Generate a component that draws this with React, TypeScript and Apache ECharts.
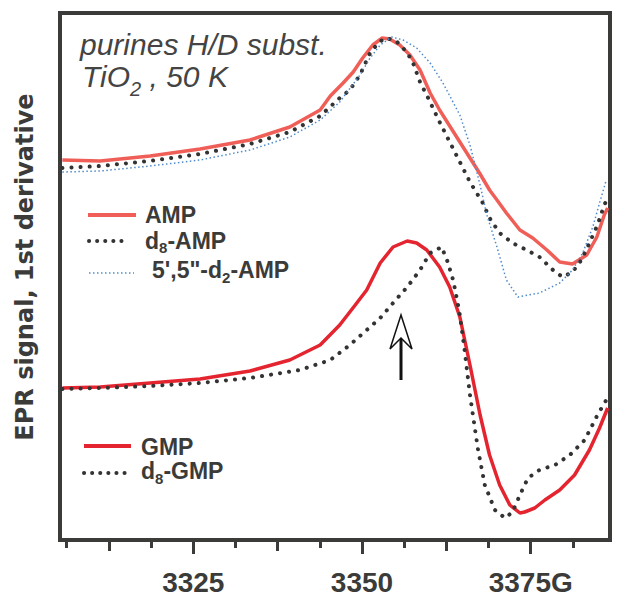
import React, { useEffect, useRef } from "react";
import * as echarts from "echarts";

// Field (G) vs EPR signal (arbitrary units)
const AMP: [number, number][] = [
  [3305.6, 380], [3311.2, 379], [3318.6, 384], [3326.0, 391], [3333.4, 400], [3339.3, 413],
  [3343.8, 430], [3345.3, 444], [3347.2, 457], [3348.7, 468], [3350.1, 482], [3351.6, 495],
  [3353.0, 502], [3354.1, 501], [3355.6, 495], [3357.1, 485], [3358.6, 470], [3360.1, 447],
  [3361.5, 430], [3363.0, 414], [3364.5, 398], [3366.0, 382], [3367.5, 366], [3368.9, 350],
  [3370.0, 340], [3371.4, 327], [3373.4, 310], [3375.3, 302], [3377.4, 290], [3379.3, 278],
  [3381.2, 276], [3383.3, 285], [3384.8, 303], [3385.9, 325], [3386.4, 332],
];
const D8_AMP: [number, number][] = [
  [3305.6, 372], [3311.2, 374], [3318.6, 379], [3326.0, 386], [3333.4, 396], [3339.3, 408],
  [3343.8, 424], [3346.7, 442], [3348.2, 450], [3349.7, 465], [3351.2, 487], [3352.4, 497],
  [3353.4, 502], [3354.9, 500], [3356.1, 492], [3357.4, 480], [3358.6, 458], [3359.8, 442],
  [3361.5, 418], [3363.0, 398], [3364.5, 378], [3366.0, 358], [3367.9, 337], [3368.9, 322],
  [3370.4, 307], [3372.3, 297], [3374.4, 290], [3376.3, 283], [3378.3, 270], [3379.7, 263],
  [3381.2, 268], [3382.5, 280], [3383.7, 297], [3384.9, 315], [3385.9, 335], [3386.4, 342],
];
const D2_AMP: [number, number][] = [
  [3305.6, 368], [3311.2, 369], [3318.6, 374], [3326.0, 380], [3333.4, 390], [3339.3, 403],
  [3343.8, 420], [3346.7, 438], [3349.7, 465], [3351.2, 482], [3352.7, 495], [3354.4, 503],
  [3356.1, 500], [3358.1, 492], [3360.1, 477], [3362.0, 457], [3362.7, 448], [3364.5, 425],
  [3366.0, 395], [3367.5, 355], [3368.5, 325], [3370.0, 293], [3371.4, 260], [3373.1, 243],
  [3376.3, 247], [3379.3, 257], [3381.2, 270], [3382.7, 287], [3384.2, 313], [3385.2, 337],
  [3386.2, 360],
];
const GMP: [number, number][] = [
  [3305.6, 152], [3311.2, 153], [3318.6, 157], [3326.0, 161], [3333.4, 169], [3339.3, 180],
  [3343.8, 195], [3346.7, 215], [3349.0, 235], [3350.7, 250], [3352.7, 277], [3354.6, 293],
  [3356.7, 299], [3358.1, 297], [3359.6, 290], [3361.5, 273], [3363.0, 253], [3364.5, 223],
  [3366.0, 175], [3367.5, 125], [3368.9, 85], [3370.4, 55], [3371.9, 35], [3373.4, 27],
  [3374.1, 28], [3375.6, 32], [3377.1, 40], [3379.3, 50], [3381.5, 65], [3383.7, 90],
  [3385.2, 112], [3386.4, 132],
];
const D8_GMP: [number, number][] = [
  [3305.6, 151], [3311.2, 152], [3318.6, 154], [3326.0, 157], [3333.4, 162], [3340.8, 170],
  [3345.3, 180], [3348.2, 195], [3350.7, 210], [3352.7, 222], [3354.6, 237], [3356.7, 253],
  [3358.6, 270], [3360.1, 287], [3361.8, 293], [3362.7, 278], [3363.5, 260], [3364.1, 240],
  [3364.5, 225], [3365.2, 190], [3366.0, 145], [3367.2, 90], [3368.2, 55], [3369.7, 30],
  [3371.2, 22], [3372.3, 28], [3373.4, 45], [3374.6, 62], [3376.3, 70], [3378.6, 75],
  [3380.8, 85], [3383.0, 100], [3384.9, 125], [3386.2, 140],
];

const MAJOR_TICKS = [3325, 3350, 3375];
const MID_TICKS = [3312.5, 3337.5, 3362.5];
const MINOR_TICKS = [3306.25, 3318.75, 3331.25, 3343.75, 3356.25, 3368.75, 3381.25];

const FONT = '"Liberation Sans", Arial, Helvetica, sans-serif';
const TITLE_FONT = '"DejaVu Sans", "Liberation Sans", sans-serif';
const DARK = "#3b3b39";
const C_AMP = "#ef5f58";
const C_GMP = "#e42530";
const C_DOT = "#333333";
const C_BLUE = "#4f8bcc";

let measureCtx: CanvasRenderingContext2D | null = null;
function measure(text: string, size: number, weight: string, style: string, family = FONT) {
  if (!measureCtx) measureCtx = document.createElement("canvas").getContext("2d");
  if (!measureCtx) return text.length * size * 0.55;
  measureCtx.font = `${style} ${weight} ${size}px ${family}`;
  return measureCtx.measureText(text).width;
}

function txt(text: string, x: number, y: number, size: number, opts: any = {}) {
  return {
    type: "text",
    x,
    y,
    rotation: opts.rotation || 0,
    style: {
      text,
      fontSize: size,
      fontFamily: opts.family || FONT,
      fontWeight: opts.weight || "bold",
      fontStyle: opts.style || "normal",
      fill: opts.fill || DARK,
      textAlign: opts.align || "left",
      align: opts.align || "left",
      textVerticalAlign: "middle",
      verticalAlign: "middle",
    },
  };
}

// parts: [text, isSubscript]
function composite(parts: [string, boolean][], x: number, y: number, size: number, subSize: number, subDy: number, opts: any = {}) {
  const out: any[] = [];
  let cx = x;
  const weight = opts.weight || "bold";
  const style = opts.style || "normal";
  for (const [t, sub] of parts) {
    const s = sub ? subSize : size;
    out.push(txt(t, cx, sub ? y + subDy : y, s, opts));
    cx += measure(t, s, weight, style);
  }
  return out;
}

function lline(x1: number, x2: number, y: number, style: any) {
  return { type: "line", shape: { x1, y1: y, x2, y2: y }, style };
}

export default function App() {
  const ref = useRef<HTMLDivElement>(null);
  useEffect(() => {
    if (!ref.current) return;
    const chart = echarts.init(ref.current, undefined, { renderer: "svg" });
    const xBase = {
      type: "value",
      min: 3305.25,
      max: 3386.75,
      position: "bottom",
      gridIndex: 0,
      axisLine: { show: false },
      splitLine: { show: false },
    };
    const dotStyle = { color: C_DOT, width: 4, type: [0.1, 9], cap: "round" };
    const headOpts = { weight: "normal", style: "italic", fill: "#444" };
    chart.setOption({
      animation: false,
      grid: {
        left: 60,
        right: 15,
        top: 13,
        bottom: 67,
        show: true,
        borderColor: DARK,
        borderWidth: 4,
        backgroundColor: "transparent",
      },
      xAxis: [
        {
          ...xBase,
          axisTick: { show: true, customValues: MAJOR_TICKS, length: 14, lineStyle: { color: DARK, width: 3 } },
          axisLabel: {
            show: true,
            customValues: MAJOR_TICKS,
            margin: 28,
            fontSize: 28,
            fontWeight: "bold",
            fontFamily: FONT,
            color: DARK,
            formatter: (v: number) => (v === 3375 ? "3375G" : String(v)),
          },
        },
        {
          ...xBase,
          axisTick: { show: true, customValues: MID_TICKS, length: 11, lineStyle: { color: DARK, width: 3 } },
          axisLabel: { show: false },
        },
        {
          ...xBase,
          axisTick: { show: true, customValues: MINOR_TICKS, length: 8, lineStyle: { color: DARK, width: 3 } },
          axisLabel: { show: false },
        },
      ],
      yAxis: { type: "value", min: 0, max: 527, show: false },
      series: [
        { name: "AMP", type: "line", data: AMP, showSymbol: false, lineStyle: { color: C_AMP, width: 3.5 } },
        { name: "d8-AMP", type: "line", data: D8_AMP, showSymbol: false, lineStyle: dotStyle },
        { name: "5',5''-d2-AMP", type: "line", data: D2_AMP, showSymbol: false, lineStyle: { color: C_BLUE, width: 1.5, type: [1.5, 2.5] } },
        { name: "GMP", type: "line", data: GMP, showSymbol: false, lineStyle: { color: C_GMP, width: 3.5 } },
        { name: "d8-GMP", type: "line", data: D8_GMP, showSymbol: false, lineStyle: dotStyle },
      ],
      graphic: {
        elements: [
          // Y axis title
          txt("EPR signal, 1st derivative", 25, 267, 24, { rotation: Math.PI / 2, align: "center", family: TITLE_FONT }),
          // Header text
          txt("purines H/D subst.", 80, 44, 30, headOpts),
          ...composite([["TiO", false], ["2", true], [" , 50 K", false]], 82, 76, 30, 20, 13, headOpts),
          // AMP legend
          lline(88, 136, 215, { stroke: C_AMP, lineWidth: 4 }),
          txt("AMP", 145, 215, 23),
          lline(89, 129, 241, { stroke: C_DOT, lineWidth: 4, lineDash: [0.1, 8], lineCap: "round" }),
          ...composite([["d", false], ["8", true], ["-AMP", false]], 145, 241, 23, 15, 6.5),
          lline(89, 134, 273, { stroke: C_BLUE, lineWidth: 1.5, lineDash: [1.5, 2.5] }),
          ...composite([["5',5\"-d", false], ["2", true], ["-AMP", false]], 152, 270, 23, 15, 7),
          // GMP legend
          lline(84, 131, 446, { stroke: C_GMP, lineWidth: 4 }),
          txt("GMP", 141, 447, 23),
          lline(84, 125, 473, { stroke: C_DOT, lineWidth: 4, lineDash: [0.1, 8], lineCap: "round" }),
          ...composite([["d", false], ["8", true], ["-GMP", false]], 141, 471, 23, 15, 7),
          // Arrow
          { type: "line", shape: { x1: 401, y1: 338, x2: 401, y2: 380 }, style: { stroke: "#111", lineWidth: 3 } },
          {
            type: "polygon",
            shape: { points: [[401, 315], [390, 349], [401, 338], [412, 349]] },
            style: { fill: "#fff", stroke: "#111", lineWidth: 1.5 },
          },
        ],
      },
    });
    return () => chart.dispose();
  }, []);
  return (
    <div
      ref={ref}
      style={{ position: "absolute", left: 0, top: 0, width: 625, height: 607, background: "#fff" }}
    />
  );
}
